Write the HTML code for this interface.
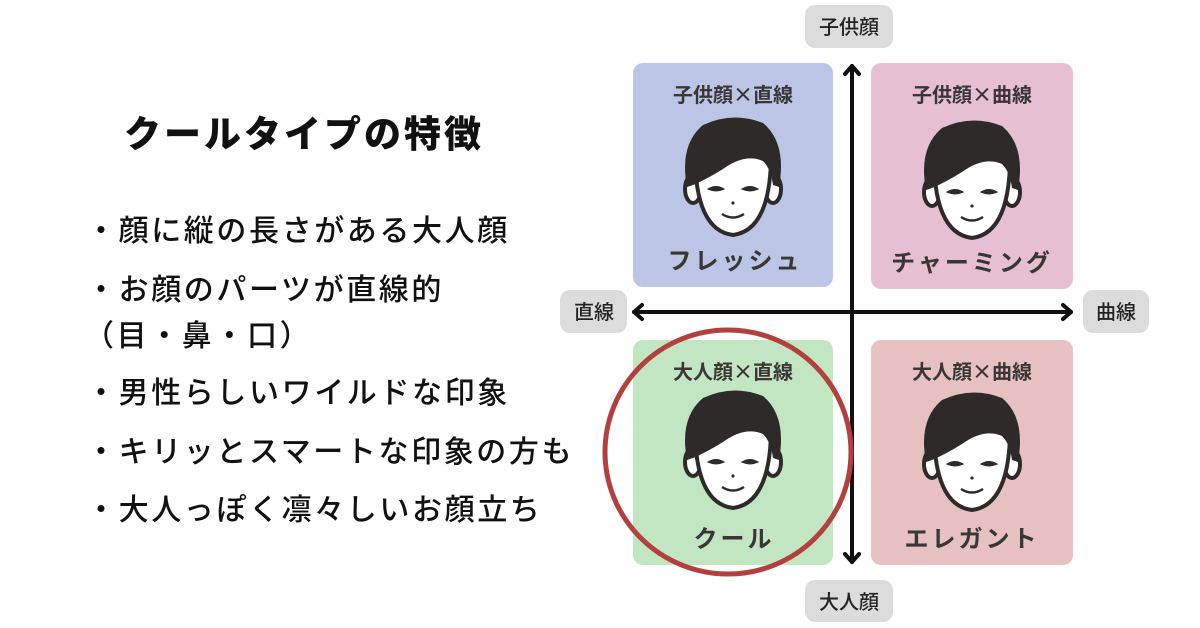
<!DOCTYPE html>
<html><head><meta charset="utf-8"><style>
body{margin:0;width:1200px;height:628px;background:#fff;position:relative;overflow:hidden;font-family:"Liberation Sans","Noto Sans CJK JP",sans-serif;}
.t{position:absolute;white-space:nowrap;color:#111;}
.title{left:124px;top:104px;font-size:37px;font-weight:900;letter-spacing:3px;}
.b{left:86px;font-size:30px;letter-spacing:2.6px;line-height:40px;font-weight:500;font-family:"Noto Sans CJK JP",sans-serif;}
</style></head><body>
<div class="t title">クールタイプの特徴</div>
<div class="t b" style="top:208px">・顔に縦の長さがある大人顔</div>
<div class="t b" style="top:267px">・お顔のパーツが直線的</div>
<div class="t b" style="top:313px;left:84px">（目・鼻・口）</div>
<div class="t b" style="top:370px">・男性らしいワイルドな印象</div>
<div class="t b" style="top:429px">・キリッとスマートな印象の方も</div>
<div class="t b" style="top:487px">・大人っぽく凛々しいお顔立ち</div>

<svg width="1200" height="628" style="position:absolute;left:0;top:0" font-family="Noto Sans CJK JP, sans-serif">
<defs>
<g id="face">
<ellipse cx="-40" cy="14" rx="8" ry="14" fill="#fff" stroke="#2e2a2a" stroke-width="4"/>
<ellipse cx="40" cy="14" rx="8" ry="14" fill="#fff" stroke="#2e2a2a" stroke-width="4"/>
<path d="M-38,-30 Q-40,55 0,60 Q40,55 38,-30 Z" fill="#fff" stroke="#2e2a2a" stroke-width="4"/>
<path d="M-46,12 Q-54,-30 -30,-50 Q0,-64 30,-52 Q54,-32 46,12 L40,10 Q38,-6 30,-14 Q12,-22 -10,-6 Q-26,4 -40,10 Z" fill="#2e2a2a"/>
<path d="M-24,14 Q-17,10 -10,14 Q-17,17 -24,14Z" fill="#2e2a2a" stroke="#2e2a2a" stroke-width="2"/>
<path d="M10,14 Q17,10 24,14 Q17,17 10,14Z" fill="#2e2a2a" stroke="#2e2a2a" stroke-width="2"/>
<path d="M-11,39 Q0,46 11,39" fill="none" stroke="#2e2a2a" stroke-width="2.5"/>
<circle cx="0" cy="28" r="1.6" fill="#2e2a2a"/>
</g>
</defs>
<rect x="633" y="63" width="200" height="224" rx="10" fill="#bcc5e6"/>
<rect x="871" y="63" width="202" height="226" rx="10" fill="#e6bfd3"/>
<rect x="633" y="340" width="200" height="225" rx="10" fill="#c3e6c2"/>
<rect x="871" y="340" width="202" height="225" rx="10" fill="#e7c1c1"/>
<g fill="#3a3636" font-size="20" font-weight="bold" text-anchor="middle">
<text x="733" y="102">子供顔×直線</text>
<text x="972" y="102">子供顔×曲線</text>
<text x="733" y="379">大人顔×直線</text>
<text x="972" y="379">大人顔×曲線</text>
</g>
<g fill="#3a3636" font-size="24" font-weight="bold" text-anchor="middle" letter-spacing="3">
<text x="735" y="269">フレッシュ</text>
<text x="972" y="271">チャーミング</text>
<text x="734" y="547">クール</text>
<text x="972" y="547">エレガント</text>
</g>
<use href="#face" x="733" y="175"/>
<use href="#face" x="972" y="178"/>
<use href="#face" x="733" y="448"/>
<use href="#face" x="972" y="450"/>
<g stroke="#111" stroke-width="4" fill="none" stroke-linecap="round" stroke-linejoin="round">
<line x1="852" y1="66" x2="852" y2="562"/>
<polyline points="845,74 852,66 859,74"/>
<polyline points="845,554 852,562 859,554"/>
<line x1="634" y1="312" x2="1071" y2="312"/>
<polyline points="642,305 634,312 642,319"/>
<polyline points="1063,305 1071,312 1063,319"/>
</g>
<g fill="#dcdcdc">
<rect x="805" y="5" width="88" height="43" rx="10"/>
<rect x="805" y="580" width="88" height="42" rx="10"/>
<rect x="560" y="290" width="67" height="43" rx="10"/>
<rect x="1083" y="290" width="66" height="43" rx="10"/>
</g>
<g fill="#222" font-size="20" font-weight="500" text-anchor="middle">
<text x="849" y="34">子供顔</text>
<text x="849" y="609">大人顔</text>
<text x="594" y="319">直線</text>
<text x="1116" y="319">曲線</text>
</g>
<ellipse cx="728" cy="452" rx="123" ry="122" fill="none" stroke="#b3403e" stroke-width="5"/>
</svg>
</body></html>
